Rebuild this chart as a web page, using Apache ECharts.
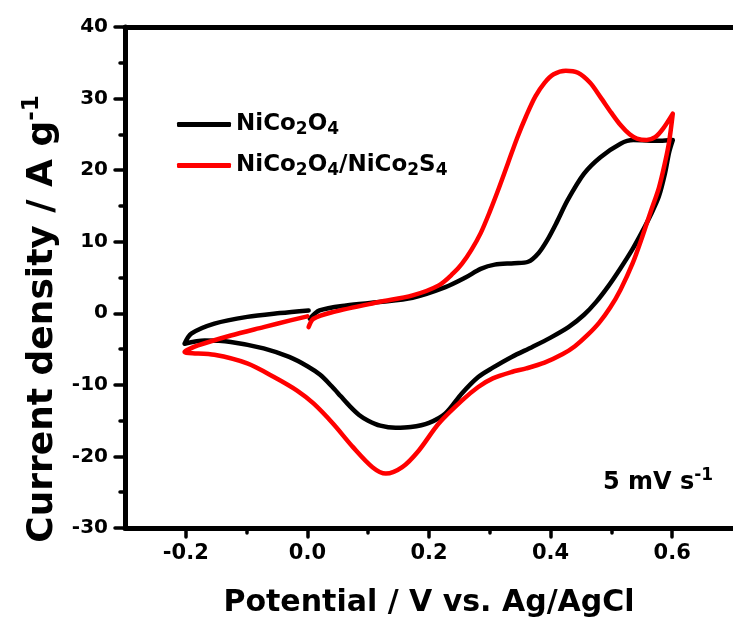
<!DOCTYPE html>
<html>
<head>
<meta charset="utf-8">
<script src="https://cdn.jsdelivr.net/npm/echarts@6/dist/echarts.min.js"></script>
<style>html,body{margin:0;padding:0;background:#fff}#c{width:733px;height:630px}</style>
</head>
<body>
<div id="c"></div>
<script>
// ---- data ----
const blackName = 'NiCo2O4';
const redName = 'NiCo2O4/NiCo2S4';
const blackV = [0.004,0.02,0.064,0.118,0.173,0.227,0.26,0.285,0.308,0.34,0.363,0.38,0.395,0.41,0.428,0.455,0.482,0.515,0.536,0.58,0.601,
  0.595,0.588,0.578,0.565,0.55,0.535,0.515,0.495,0.475,0.455,0.43,0.4,0.37,0.336,0.305,0.281,0.254,0.227,0.2,0.17,0.145,0.12,0.1,0.085,0.07,0.055,0.04,0.021,0.0,-0.03,-0.072,-0.126,-0.169,-0.202,
  -0.191,-0.153,-0.099,-0.045,0.002];
const blackI = [-0.76,0.4,1.1,1.57,2.18,3.66,5.0,6.2,6.8,7.0,7.2,8.4,10.3,12.7,15.8,19.5,21.8,23.7,24.2,24.1,24.2,
  22.5,19.5,16.3,13.8,11.3,9.0,6.3,3.8,1.6,-0.2,-1.9,-3.4,-4.7,-6.1,-7.6,-8.9,-11.2,-14.0,-15.3,-15.9,-16.0,-15.7,-15.0,-14.2,-13.0,-11.6,-10.2,-8.6,-7.4,-6.1,-4.9,-4.0,-3.8,-4.25,
  -2.85,-1.45,-0.5,0.03,0.4];
const redV = [0.002,0.01,0.042,0.118,0.173,0.216,0.24,0.254,0.27,0.285,0.3,0.315,0.33,0.345,0.36,0.375,0.39,0.405,0.425,0.445,0.465,0.482,0.5,0.515,0.53,0.542,0.558,0.572,0.585,0.601,
  0.595,0.588,0.578,0.565,0.55,0.535,0.515,0.498,0.48,0.46,0.44,0.42,0.39,0.36,0.336,0.305,0.281,0.254,0.216,0.183,0.156,0.129,0.107,0.075,0.042,0.01,-0.017,-0.055,-0.099,-0.153,-0.202,
  -0.18,-0.126,-0.072,-0.028,0.0];
const redI = [-1.93,-0.76,0.17,1.57,2.5,3.9,5.6,6.9,8.9,11.2,14.2,17.5,21.0,24.5,27.6,30.3,32.2,33.4,33.9,33.6,32.2,30.2,28.0,26.3,25.0,24.4,24.2,24.6,25.8,27.9,
  24.0,21.0,17.5,14.3,10.5,7.0,3.3,0.8,-1.3,-3.1,-4.6,-5.7,-6.9,-7.7,-8.2,-9.1,-10.3,-12.2,-15.4,-19.2,-21.5,-22.4,-21.5,-18.7,-15.4,-12.6,-10.8,-8.9,-7.0,-5.8,-5.4,
  -4.5,-3.1,-1.93,-0.99,-0.43];
const xMajor = [-0.2, 0, 0.2, 0.4, 0.6];
const xMinor = [-0.1, 0.1, 0.3, 0.5];
const yMajor = [-30, -20, -10, 0, 10, 20, 30, 40];
const yMinor = [-25, -15, -5, 5, 15, 25, 35];
const xTitle = 'Potential / V vs. Ag/AgCl';
const yTitleMain = 'Current density / A g';
const yTitleSup = '-1';
const rateText = '5 mV s';
const rateSup = '-1';

// ---- chart ----
const FONT = 'DejaVu Sans';
const zip = (a, b) => a.map((v, i) => [v, b[i]]);
const chart = echarts.init(document.getElementById('c'), null, {renderer: 'canvas'});
const subRich = {
  m: {fontFamily: FONT, fontWeight: 'bold', fontSize: 23, color: '#000'},
  s: {fontFamily: FONT, fontWeight: 'bold', fontSize: 17, color: '#000', padding: [10, 0, 0, 0]}
};
function chem(name) {
  return name.split(/(\d)/).map(p => /^\d$/.test(p) ? '{s|' + p + '}' : (p ? '{m|' + p + '}' : '')).join('');
}
const axisCommon = {type: 'value', splitLine: {show: false}};
const lineW = 5;
const tickStyle = {color: '#000', width: 3.5, cap: 'round'};
chart.setOption({
  animation: false,
  backgroundColor: '#fff',
  grid: {left: 125, top: 27, width: 615, height: 501, containLabel: false},
  xAxis: [
    Object.assign({}, axisCommon, {
      position: 'bottom', min: -0.3, max: 0.7, interval: 0.1,
      axisLine: {show: true, onZero: false, lineStyle: {color: '#000', width: lineW}},
      axisTick: {show: true, customValues: xMajor, length: 9, lineStyle: tickStyle},
      axisLabel: {show: true, customValues: xMajor, margin: 15, formatter: v => v.toFixed(1),
        fontFamily: FONT, fontWeight: 'bold', fontSize: 21, color: '#000'},
      name: xTitle, nameLocation: 'middle', nameGap: 60,
      nameTextStyle: {fontFamily: FONT, fontWeight: 'bold', fontSize: 30, color: '#000'}
    }),
    Object.assign({}, axisCommon, {
      position: 'bottom', min: -0.3, max: 0.7, interval: 0.1,
      axisLine: {show: false, onZero: false},
      axisTick: {show: true, customValues: xMinor, length: 5, lineStyle: tickStyle},
      axisLabel: {show: false}
    }),
    Object.assign({}, axisCommon, {
      position: 'top', min: -0.3, max: 0.7, interval: 0.1,
      axisLine: {show: true, onZero: false, lineStyle: {color: '#000', width: lineW}},
      axisTick: {show: false}, axisLabel: {show: false}
    })
  ],
  yAxis: [
    Object.assign({}, axisCommon, {
      position: 'left', min: -30, max: 40, interval: 10,
      axisLine: {show: true, onZero: false, lineStyle: {color: '#000', width: lineW}},
      axisTick: {show: true, customValues: yMajor, length: 10, lineStyle: tickStyle},
      axisLabel: {show: true, customValues: yMajor, margin: 17,
        fontFamily: FONT, fontWeight: 'bold', fontSize: 20, color: '#000'}
    }),
    Object.assign({}, axisCommon, {
      position: 'left', min: -30, max: 40, interval: 10,
      axisLine: {show: false, onZero: false},
      axisTick: {show: true, customValues: yMinor, length: 5, lineStyle: tickStyle},
      axisLabel: {show: false}
    })
  ],
  legend: [
    {data: [blackName], left: 172, top: 108, icon: 'roundRect', itemWidth: 54, itemHeight: 5, itemGap: 6,
      formatter: chem, textStyle: {rich: subRich}},
    {data: [redName], left: 172, top: 149, icon: 'roundRect', itemWidth: 54, itemHeight: 5, itemGap: 6,
      formatter: chem, textStyle: {rich: subRich}}
  ],
  series: [
    {name: blackName, type: 'line', data: zip(blackV, blackI), showSymbol: false, symbol: 'none',
      smooth: 0.3, lineStyle: {color: '#000', width: 4.5, cap: 'round', join: 'round'}, itemStyle: {color: '#000'}},
    {name: redName, type: 'line', data: zip(redV, redI), showSymbol: false, symbol: 'none',
      smooth: 0.3, lineStyle: {color: '#ff0000', width: 4.5, cap: 'round', join: 'round'}, itemStyle: {color: '#ff0000'}}
  ],
  graphic: [
    {type: 'text', x: 43, y: 319, rotation: Math.PI / 2,
      style: {text: '{m|' + yTitleMain + '}{p|' + yTitleSup + '}', textAlign: 'center', textVerticalAlign: 'middle',
        rich: {m: {fontFamily: FONT, fontWeight: 'bold', fontSize: 36, fill: '#000'},
               p: {fontFamily: FONT, fontWeight: 'bold', fontSize: 23, fill: '#000', padding: [0, 0, 22, 0]}}}},
    {type: 'text', x: 603, y: 483,
      style: {text: '{m|' + rateText + '}{p|' + rateSup + '}', textAlign: 'left', textVerticalAlign: 'middle',
        rich: {m: {fontFamily: FONT, fontWeight: 'bold', fontSize: 24, fill: '#000'},
               p: {fontFamily: FONT, fontWeight: 'bold', fontSize: 17, fill: '#000', padding: [0, 0, 15, 0]}}}}
  ]
});
</script>
</body>
</html>
